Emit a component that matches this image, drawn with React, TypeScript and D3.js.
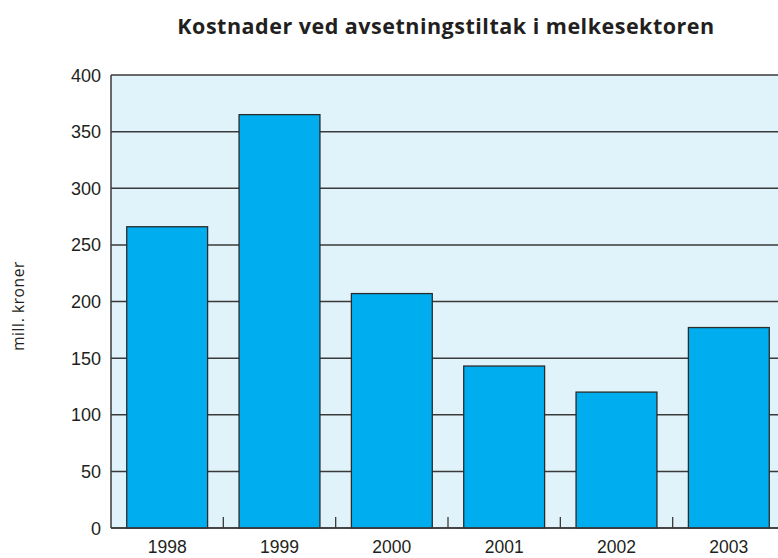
import React from "react";
import * as d3 from "d3";

const categories = ["1998", "1999", "2000", "2001", "2002", "2003"];
const values = [266, 365, 207, 143, 120, 177];
const yTicks = [0, 50, 100, 150, 200, 250, 300, 350, 400];
const title = "Kostnader ved avsetningstiltak i melkesektoren";
const yTitle = "mill. kroner";

export default function App() {
  const W = 778, H = 558;
  const left = 111, right = 785, top = 75, bottom = 528;
  const x = d3.scaleBand<string>().domain(categories).range([left, right]).paddingInner(0.28).paddingOuter(0.14);
  const y = d3.scaleLinear().domain([0, 400]).range([bottom, top]);
  const step = x.step();
  const boundaries = d3.range(1, categories.length).map((i) => left + i * step);
  const font = "'Liberation Sans', Arial, sans-serif";
  return (
    <svg width={W} height={H} style={{ position: "absolute", left: 0, top: 0, background: "#fff" }}>
      <text x={446} y={34} textAnchor="middle" fontFamily="'Open Sans', 'DejaVu Sans', sans-serif" fontWeight={700} fontSize={21.5} letterSpacing={0.5} fill="#231f20">
        {title}
      </text>
      <rect x={left} y={top} width={right - left} height={bottom - top} fill="#e0f2fa" />
      {yTicks.map((t) => (
        <line key={t} x1={left} x2={right} y1={y(t)} y2={y(t)} stroke="#3a3a3a" strokeWidth={1.5} />
      ))}
      {categories.map((c, i) => (
        <rect key={c} x={x(c)} y={y(values[i])} width={x.bandwidth()} height={bottom - y(values[i])} fill="#00adee" stroke="#2b2b2b" strokeWidth={1.3} />
      ))}
      {boundaries.map((b, i) => (
        <line key={i} x1={b} x2={b} y1={bottom} y2={bottom - 11} stroke="#3a3a3a" strokeWidth={1.3} />
      ))}
      <line x1={left} x2={left} y1={top} y2={bottom} stroke="#3a3a3a" strokeWidth={1.5} />
      <line x1={left} x2={right} y1={bottom} y2={bottom} stroke="#3a3a3a" strokeWidth={1.5} />
      {yTicks.map((t) => (
        <text key={t} x={101} y={y(t) + 6.5} textAnchor="end" fontFamily={font} fontSize={18} fill="#231f20">
          {t}
        </text>
      ))}
      {categories.map((c) => (
        <text key={c} x={(x(c) as number) + x.bandwidth() / 2} y={553} textAnchor="middle" fontFamily={font} fontSize={17.5} fill="#231f20">
          {c}
        </text>
      ))}
      <text transform={`translate(24, 306) rotate(-90)`} textAnchor="middle" fontFamily="'Open Sans', sans-serif" fontSize={15.5} letterSpacing={0.6} fill="#231f20">
        {yTitle}
      </text>
    </svg>
  );
}
